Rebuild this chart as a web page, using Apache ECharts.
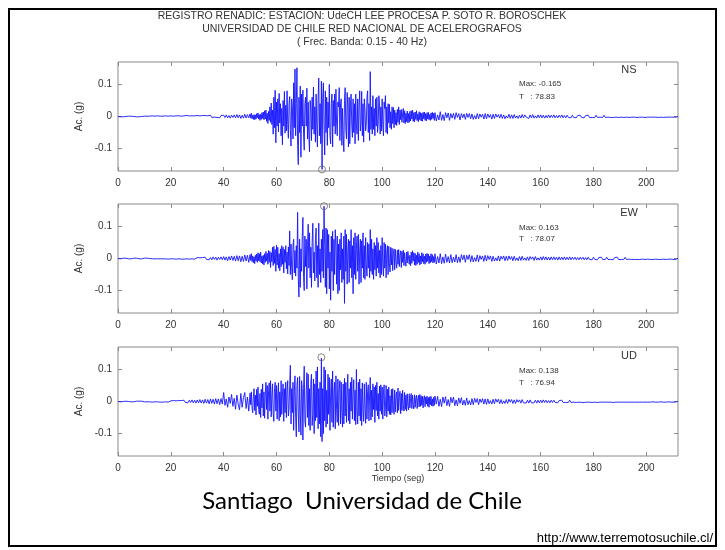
<!DOCTYPE html>
<html><head><meta charset="utf-8">
<script src="https://cdn.jsdelivr.net/npm/echarts@6/dist/echarts.min.js"></script>
<style>html,body{margin:0;padding:0;background:#fff}#c{width:725px;height:550px}</style>
</head><body><div id="c"></div>
<script>
// Record segments: start time (s) and sampling interval (s) of each segment
const segStart = [0, 50, 120];
const segDt = [0.5, 0.25, 0.5];
const tMax = 212;
const xTicks = [0,20,40,60,80,100,120,140,160,180,200];
const yTicks = [-0.1, 0, 0.1];
const channels = ['NS','EW','UD'];
const maxVals = ['-0.165','0.163','0.138'];
const maxTimes = ['78.83','78.07','76.94'];
// Peak markers (time s, accel g) as pictured
const peakNS = [77.25, -0.165];
const peakEW = [78.0, 0.163];
const peakUD = [77.0, 0.138];

// Accelerations in milli-g
// ---- NS ----
const nsPre = [
0,1,-1,1,-1,1,0,-1,1,-1, 1,-1,0,1,-1,1,-1,1,0,-1,
1,-1,1,-2,1,-1,2,-1,1,-1, 2,-1,1,-2,1,-1,2,-1,1,-1,
2,-2,1,-2,2,-1,2,-2,1,-2, 2,-2,3,-2,2,-1,2,-3,2,-2,
3,-2,2,-3,3,-2,3,-3,2,-3, 4,-3,3,-2,4,-3,3,-4,3,-2,
4,-3,5,-4,3,-5,4,-3,5,-4, 6,-4,5,-6,4,-5,7,-5,6,-4
];
const nsMain = [
8,-5,10,-7,4,-9,6,-10,5,-8,
9,-4,11,-8,6,-12,7,-9,12,-6,
14,-10,18,-8,20,-15,10,-22,16,-12,
30,-18,42,-25,20,-55,60,-35,82,-82,
45,-30,55,-48,72,-20,40,-60,25,-88,
50,-30,78,-52,35,-45,80,-25,-68,40,
62,-40,-92,55,30,-70,105,-35,148,-60,
40,152,-90,-150,60,-50,95,-127,70,-30,
82,-55,-105,40,60,-30,88,-70,45,-60,
-110,50,20,-75,60,-40,92,-55,30,-80,
70,-30,-95,55,120,-60,40,-85,110,-165,
60,105,-40,-120,80,-50,60,-90,45,-35,
100,-60,-85,40,70,-95,50,-30,70,-55,
85,-20,-60,45,30,90,-75,40,55,-90,
25,-60,-110,50,90,-40,-70,75,30,-95,
60,-85,35,70,-30,-65,55,-50,40,-85,
70,-30,-55,55,-75,30,80,-45,-20,78,
-60,40,-80,55,20,-45,-25,60,80,-50,
40,-75,140,-40,30,-55,65,-40,25,-60,
55,-30,60,-50,-25,65,40,-55,30,-45,
55,-25,-60,45,25,65,-50,30,-55,40,
-20,38,-35,15,-40,30,-22,28,-35,20,
-25,12,-28,22,-18,30,-25,20,-10,22,
-18,8,25,-20,18,-22,10,-16,17,-20,
9,-18,16,-14,18,-8,20,-15,12,-17,
14,-9,18,-13,8,-16,15,-10,12,-14,
10,-15,13,-7,14,-12,9,-14,12,-8,
13,-10,6,-12,11,-9,13,-6,10,-12
];
const nsPost = [
12,-14,5,-11,15,-12,6,-13,12,-4, 11,-12,9,-5,10,-9,12,-3,9,-11,
9,-4,8,-9,10,-3,9,-7,8,-9, 3,-8,9,-7,8,-2,7,-8,9,-7,
8,-3,6,-8,7,-6,8,-2,6,-5, 7,-6,5,-7,2,-5,7,-6,5,-6,
6,-5,2,-6,4,-5,6,-4,5,-2, 4,-6,5,-4,6,-5,2,-5,5,-4,
5,-4,4,-5,3,-4,5,-4,4,-3, 5,-4,3,-4,4,-3,5,-4,3,-4,
4,-3,3,-4,4,-3,3,-4,3,-3, 4,-3,3,-4,3,-3,4,-3,3,-3,
3,-3,4,-3,3,-2,3,-3,4,-3, 3,-2,3,-3,2,-3,3,-2,3,-3,
3,-2,2,-3,3,-2,3,-3,2,-2, 3,-2,2,-3,2,-2,3,-2,2,-3,
2,-2,3,-2,2,-2,3,-2,2,-3, 2,-2,2,-3,2,-2,3,-2,2,-2,
2,-2,2,-2,1
];
// ---- EW ----
const ewPre = [
0,1,-1,0,1,-1,1,0,-1,1, -1,0,1,-1,1,0,-1,1,-1,0,
1,-1,1,-1,0,1,-1,1,-1,1, -1,1,-1,2,-1,1,-1,1,-2,1,
-1,2,-1,1,-2,1,-1,2,-2,1, -2,2,-1,2,-2,2,-1,2,-2,1,
3,-2,2,-3,3,-2,4,-3,3,-4, 3,-4,5,-3,4,-5,4,-3,5,-4,
6,-5,5,-7,6,-5,8,-6,7,-8, 9,-7,8,-10,7,-9,11,-8,10,-12
];
const ewMain = [
12,-6,15,-10,8,-13,5,-16,10,-8,
14,-12,18,-7,15,-10,20,-14,8,-17,
10,-20,15,-12,22,-8,16,-18,25,-12,
22,-28,18,-10,35,-22,38,-15,28,-40,
42,-20,35,-30,15,-38,30,-25,40,-18,
35,-45,28,-12,40,-32,20,-48,36,-22,
86,-50,45,-30,-66,40,60,-45,25,-55,
40,-30,144,-60,-120,60,-90,30,-40,70,
128,-60,-100,70,-25,60,-95,40,107,-30,
80,-60,35,-90,50,110,-45,20,-70,60,
95,-60,40,-90,110,-50,30,-75,60,-40,
90,-60,163,40,-90,95,-110,90,-30,75,
-95,20,-130,70,-40,85,-100,60,-50,90,
40,-80,70,-110,45,-100,60,-35,80,-75,
30,-65,70,-140,90,-40,75,-80,25,60,
-75,55,-30,90,-60,40,-110,65,-50,80,
-65,30,70,-40,75,-80,25,60,-75,55,
-30,80,-60,40,-65,65,-20,-55,50,-30,
45,-60,90,-40,60,-50,30,-65,50,-35,
40,-55,65,-30,50,-45,25,-60,40,-50,
65,-20,-55,50,-30,45,-60,20,40,-50,
38,-15,-42,35,-20,32,-38,15,30,-35,
28,-12,-30,26,-18,28,-25,10,24,-28,
22,-12,26,-22,18,-8,-24,20,-14,22,
25,-18,10,-22,20,-15,24,-8,18,-20,
16,-22,10,-18,20,-12,15,-20,8,-17,
18,-10,15,-16,7,-18,14,-12,16,-9,
14,-16,8,-13,15,-10,12,-14,6,-12
];
const ewPost = [
15,-17,6,-14,15,-16,5,-15,14,-12, 6,-14,12,-13,4,-11,12,-13,5,-12,
12,-4,11,-12,10,-3,12,-10,9,-11, 3,-9,11,-10,9,-3,8,-9,10,-8,
9,-3,8,-9,7,-8,2,-7,8,-8, 7,-2,8,-7,7,-6,8,-3,6,-7,
7,-6,2,-7,6,-6,7,-5,2,-6, 5,-6,6,-2,5,-6,6,-5,2,-5,
5,-5,6,-4,5,-5,4,-5,5,-4, 5,-4,4,-5,5,-4,4,-4,5,-4,
4,-4,5,-4,4,-3,4,-4,3,-4, 4,-3,4,-4,3,-4,4,-3,3,-4,
4,-3,3,-4,3,-3,4,-3,3,-3, 4,-3,3,-3,3,-4,3,-3,4,-3,
3,-3,3,-3,4,-3,3,-2,3,-3, 3,-3,2,-3,3,-3,3,-2,3,-3,
3,-2,3,-3,2,-3,3,-2,3,-3, 2,-3,3,-2,2,-3,3,-2,2,-2,
2,-3,2,-2,1
];
// ---- UD ----
const udPre = [
0,1,-1,1,0,-1,1,-1,0,1, -1,1,-1,0,1,-1,1,-1,1,0,
-1,1,-1,2,-1,1,-2,1,-1,2, -1,2,-2,1,-2,2,-1,2,-2,1,
2,-2,3,-2,2,-3,3,-2,3,-3, 4,-3,3,-4,4,-3,5,-4,4,-5,
5,-4,6,-5,5,-6,7,-5,6,-7, 8,-6,7,-8,9,-7,8,-10,9,-8,
28,-12,8,-18,14,-6,22,-15,10,-24, 20,-8,-26,25,-18,12,28,-22,14,-30
];
const udMain = [
26,-10,30,-20,-35,15,40,-28,20,-42,
38,-15,45,-25,-40,25,-50,38,-20,55,
-45,30,-52,20,60,-25,50,-55,35,58,
-30,65,-48,20,55,-38,-62,40,60,-30,
50,-55,25,58,-60,30,-48,65,-40,20,
55,-62,40,-35,60,-50,30,65,-45,-25,
50,113,-70,40,-35,60,-90,30,80,-50,
-110,50,75,-40,-95,78,-30,-105,65,40,
-120,40,110,-60,-80,30,90,-50,85,-75,
40,-90,60,85,-75,-40,70,-100,55,-60,
95,-50,108,-85,40,-70,60,-110,135,-125,
40,-100,108,-60,98,-80,35,-70,85,-40,
75,-90,25,70,-65,95,-80,30,60,-85,
80,-25,-65,70,-75,40,65,-70,60,-35,
-80,55,-70,72,-45,60,-65,30,85,-60,
40,-70,60,-30,75,-55,25,68,-60,35,
-72,100,-30,-70,60,-45,70,-60,40,-75,
58,-30,-62,55,-20,-68,60,-55,30,52,
-60,20,75,-58,35,-48,55,-25,45,-65,
50,-28,60,-45,25,-55,48,-30,52,-40,
45,-55,30,52,-45,-20,50,-48,38,-30,
45,-40,18,-42,38,-35,40,-15,-40,36,
-32,20,30,-35,42,-28,15,32,-38,25,
-28,35,-12,-30,28,-25,20,-30,24,-12,
-26,24,-20,10,25,-22,20,-10,-23,21,
-18,12,20,-22,8,19,-17,22,-15,18,
-12,16,-20,10,18,-16,14,-8,17,-15,
12,-18,15,-10,16,-14,8,-15,13,-12
];
const udPost = [
17,-8,16,-15,7,-16,14,-5,15,-13, 6,-15,13,-4,14,-13,5,-13,11,-6,
12,-11,4,-12,11,-10,3,-11,9,-10, 10,-3,9,-10,8,-3,9,-8,8,-9,
8,-7,3,-8,7,-7,8,-2,7,-7, 6,-7,2,-6,6,-6,7,-2,6,-6,
5,-6,6,-2,5,-5,6,-4,2,-5, 4,-5,5,-4,2,-4,4,-5,4,-4,
4,-4,5,-3,4,-4,3,-4,4,-3, 4,-3,3,-4,3,-3,4,-3,3,-3,
3,-3,4,-3,3,-2,3,-3,3,-2, 3,-3,2,-3,3,-2,3,-2,2,-3,
3,-2,2,-3,2,-2,3,-2,2,-2, 3,-2,2,-2,2,-3,2,-2,2,-2,
2,-2,3,-2,2,-2,2,-2,2,-2, 2,-2,2,-2,2,-2,2,-2,2,-2,
2,-2,2,-2,2,-1,2,-2,1,-2, 2,-1,2,-2,1,-2,2,-1,2,-2,
1,-2,1,-1,1
];

const titleLines = [
  'REGISTRO RENADIC: ESTACION: UdeCH LEE PROCESA P. SOTO R. BOROSCHEK',
  'UNIVERSIDAD DE CHILE RED NACIONAL DE ACELEROGRAFOS',
  '( Frec. Banda: 0.15 - 40 Hz)'
];
const yName = 'Ac. (g)';
const xName = 'Tiempo (seg)';
const caption = 'Santiago  Universidad de Chile';
const url = 'http://www.terremotosuchile.cl/';

function toPoints(segs) {
  const out = [];
  segs.forEach((seg, s) => {
    seg.forEach((v, k) => out.push([segStart[s] + k * segDt[s], v / 1000]));
  });
  return out;
}

const chart = echarts.init(document.getElementById('c'), null, {renderer:'canvas'});
const FONT = 'Liberation Sans, Arial, sans-serif';
const axisGray = '#8a8a8a';
const tops = [62, 204, 347];
const allSegs = [[nsPre, nsMain, nsPost], [ewPre, ewMain, ewPost], [udPre, udMain, udPost]];
const peaks = [peakNS, peakEW, peakUD];

const grids = [], xAxes = [], yAxes = [], series = [];
const tickStyle = (vals) => ({show:true, inside:true, length:4, lineStyle:{color:axisGray}, customValues:vals});
tops.forEach((top, i) => {
  grids.push({left:118, top:top, width:560, height:109, show:true, borderColor:axisGray, borderWidth:1, backgroundColor:'#fff'});
  const xBase = {gridIndex:i, type:'value', min:0, max:tMax, interval:20,
    axisLine:{show:false, onZero:false}, splitLine:{show:false}};
  xAxes.push(Object.assign({}, xBase, {position:'bottom',
    axisLabel:{show:true, margin:7, fontSize:10, color:'#333', fontFamily:FONT, customValues: xTicks},
    axisTick:tickStyle(xTicks),
    name: i===2 ? xName : '', nameLocation:'middle', nameGap:18,
    nameTextStyle:{fontSize:9, color:'#333', fontFamily:FONT}}));
  xAxes.push(Object.assign({}, xBase, {position:'top', axisLabel:{show:false}, axisTick:tickStyle(xTicks)}));
  const yBase = {gridIndex:i, type:'value', min:-0.17, max:0.17, splitNumber:3,
    axisLine:{show:false, onZero:false}, splitLine:{show:false}};
  yAxes.push(Object.assign({}, yBase, {position:'left',
    axisTick:tickStyle(yTicks),
    axisLabel:{show:true, margin:6, fontSize:10, color:'#333', fontFamily:FONT, customValues:yTicks,
      formatter: v => Math.abs(v) < 1e-9 ? '0' : v.toFixed(1)},
    name: yName, nameLocation:'middle', nameGap:31, nameRotate:90,
    nameTextStyle:{fontSize:10, color:'#333', fontFamily:FONT}}));
  yAxes.push(Object.assign({}, yBase, {position:'right', axisTick:tickStyle(yTicks), axisLabel:{show:false}}));
  series.push({type:'line', xAxisIndex:2*i, yAxisIndex:2*i, data:toPoints(allSegs[i]), showSymbol:false,
    symbol:'none', lineStyle:{color:'#1414ff', width:0.9}, animation:false, silent:true, z:2});
  series.push({type:'scatter', xAxisIndex:2*i, yAxisIndex:2*i, data:[peaks[i]],
    symbol:'circle', symbolSize:7, itemStyle:{color:'rgba(0,0,0,0)', borderColor:'#666', borderWidth:1},
    animation:false, silent:true, z:5});
});

const graphics = [
  {type:'rect', shape:{x:9, y:9, width:707, height:537}, style:{fill:null, stroke:'#000', lineWidth:2}, z:100}
];
titleLines.forEach((s, k) => {
  graphics.push({type:'text', x:362, y:16 + k*13, style:{text:s, fill:'#333', font:'10.5px '+FONT, textAlign:'center', textVerticalAlign:'middle'}});
});
const labelY = [[70,84,97],[213,228,239],[356,371,383]];
channels.forEach((c, i) => {
  graphics.push({type:'text', x:629, y:labelY[i][0], style:{text:c, fill:'#333', font:'11px '+FONT, textAlign:'center', textVerticalAlign:'middle'}});
  graphics.push({type:'text', x:519, y:labelY[i][1], style:{text:'Max: '+maxVals[i], fill:'#333', font:'8px '+FONT, textAlign:'left', textVerticalAlign:'middle'}});
  graphics.push({type:'text', x:519, y:labelY[i][2], style:{text:'T   : '+maxTimes[i], fill:'#333', font:'8px '+FONT, textAlign:'left', textVerticalAlign:'middle'}});
});
graphics.push({type:'text', x:362, y:501, style:{text:caption, fill:'#000', font:'24px Lato, "Open Sans", sans-serif', textAlign:'center', textVerticalAlign:'middle'}});
graphics.push({type:'text', x:713, y:538, style:{text:url, fill:'#000', font:'13px '+FONT, textAlign:'right', textVerticalAlign:'middle'}});

chart.setOption({
  animation:false,
  backgroundColor:'#fff',
  grid:grids, xAxis:xAxes, yAxis:yAxes, series:series, graphic:graphics
});
</script></body></html>
